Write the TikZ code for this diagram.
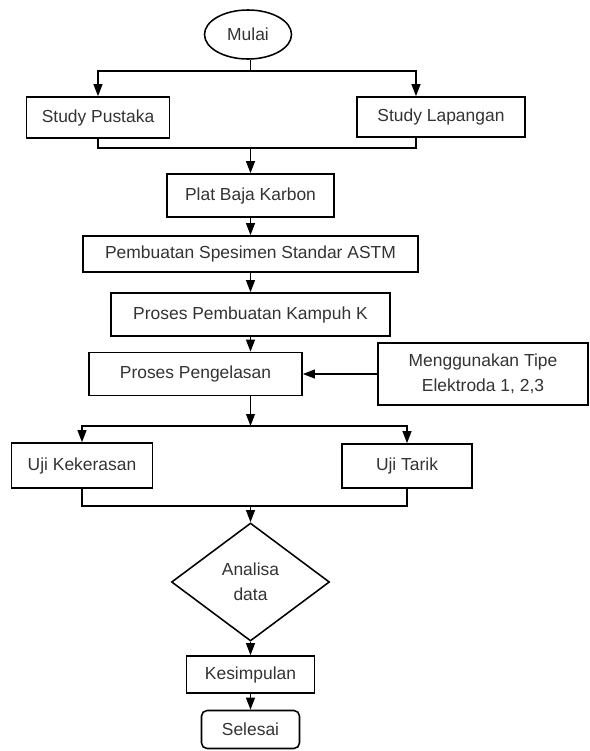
\documentclass[tikz,border=0pt]{standalone}
\usepackage{fontspec}
\setmainfont{Liberation Sans}
\usetikzlibrary{shapes.geometric,arrows.meta}

\begin{document}
\begin{tikzpicture}[x=0.025cm, y=-0.025cm,
  every node/.style={font=\fontsize{12.4pt}{18pt}\selectfont, text=black!80, align=center, inner sep=0pt},
  flowbox/.style={draw=black, rectangle, line width=1.1pt},
  flowline/.style={draw=black, line width=1.1pt},
  flowarrow/.style={flowline, -{Triangle[length=3mm,width=2.2mm]}}]
\useasboundingbox (0,0) rectangle (590,751);
% Start and first split
\node[draw=black, line width=1.1pt, ellipse, minimum width=2.175cm, minimum height=1.225cm] (mulai) at (248,34.5) {Mulai};
\node[flowbox, minimum width=3.575cm, minimum height=1.025cm] (pustaka) at (98,117.5) {Study Pustaka};
\node[flowbox, minimum width=4.2cm, minimum height=1cm] (lapangan) at (441,117) {Study Lapangan};
% Main process chain
\node[flowbox, minimum width=4.175cm, minimum height=1.075cm] (plat) at (250.5,195.5) {Plat Baja Karbon};
\node[flowbox, minimum width=8.375cm, minimum height=0.9cm] (spesimen) at (250.5,254) {Pembuatan Spesimen Standar ASTM};
\node[flowbox, minimum width=6.975cm, minimum height=1.075cm] (kampuh) at (250.5,314.5) {Proses Pembuatan Kampuh K};
\node[flowbox, minimum width=5.325cm, minimum height=1.075cm] (pengelasan) at (195.5,374) {Proses Pengelasan};
\node[flowbox, minimum width=5.25cm, minimum height=1.55cm] (elektroda) at (483,374) {Menggunakan Tipe\\Elektroda 1, 2,3};
% Tests
\node[flowbox, minimum width=3.525cm, minimum height=1.125cm] (kekerasan) at (82,465.5) {Uji Kekerasan};
\node[flowbox, minimum width=3.25cm, minimum height=1.1cm] (tarik) at (407,466) {Uji Tarik};
% Analysis and end
\node[draw=black, line width=1.1pt, diamond, minimum width=3.95cm, minimum height=2.95cm] (analisa) at (250.5,582) {Analisa\\data};
\node[flowbox, minimum width=3.2cm, minimum height=0.925cm] (kesimpulan) at (250.5,674.5) {Kesimpulan};
\node[flowbox, rounded corners=4pt, minimum width=2.45cm, minimum height=0.95cm] (selesai) at (250.5,729.5) {Selesai};
% Junctions
\coordinate (sa) at (250.5,71);
\coordinate (ma) at (250.5,148);
\coordinate (sb) at (250.5,426);
\coordinate (mb) at (250.5,506);
% Connectors
\draw[flowline] (mulai.south -| sa) -- (sa);
\draw[flowarrow] (sa) -| (pustaka);
\draw[flowarrow] (sa) -| ([xshift=-0.625cm]lapangan.north);
\draw[flowline] (pustaka) |- (ma);
\draw[flowline] ([xshift=-0.625cm]lapangan.south) |- (ma);
\draw[flowarrow] (ma) -- (plat);
\draw[flowarrow] (plat) -- (spesimen);
\draw[flowarrow] (spesimen) -- (kampuh);
\draw[flowarrow] (kampuh) -- (pengelasan.north -| kampuh);
\draw[flowarrow] (elektroda) -- (pengelasan);
\draw[flowarrow] (pengelasan.south -| sb) -- (sb);
\draw[flowarrow] (sb) -| (kekerasan);
\draw[flowarrow] (sb) -| (tarik);
\draw[flowline] (kekerasan) |- (mb);
\draw[flowline] (tarik) |- (mb);
\draw[flowarrow] (mb) -- (analisa);
\draw[flowarrow] (analisa) -- (kesimpulan);
\draw[flowarrow] (kesimpulan) -- (selesai);
\end{tikzpicture}
\end{document}
